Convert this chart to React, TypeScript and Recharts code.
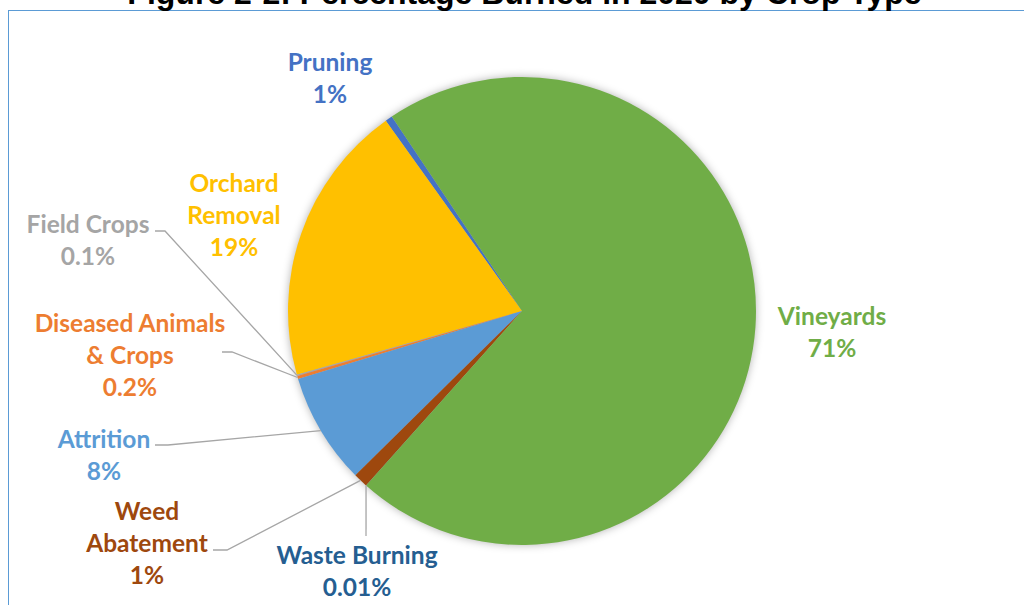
import { Pie, PieChart, Cell } from "recharts";

// shares of acreage burned in 2020
const categories = [
  "Pruning",
  "Orchard Removal",
  "Field Crops",
  "Diseased Animals & Crops",
  "Attrition",
  "Weed Abatement",
  "Waste Burning",
  "Vineyards",
];
const shares = [0.5, 19.5, 0.1, 0.2, 7.7, 1.0, 0.01, 71.0];
const shareLabels = ["1%", "19%", "0.1%", "0.2%", "8%", "1%", "0.01%", "71%"];

const sliceColors: Record<string, string> = {
  Pruning: "#4472C4",
  "Orchard Removal": "#FFC000",
  "Field Crops": "#A5A5A5",
  "Diseased Animals & Crops": "#ED7D31",
  Attrition: "#5B9BD5",
  "Weed Abatement": "#9E480E",
  "Waste Burning": "#264478",
  Vineyards: "#70AD47",
};
const labelColors: Record<string, string> = {
  ...sliceColors,
  "Waste Burning": "#255E91",
};

// where Excel parked each data label (text lines, centre x, first line centre y, leader elbow)
type LabelSpot = { lines: string[]; x: number; y: number; elbow?: [number, number][] };
const labelSpots: Record<string, LabelSpot> = {
  Pruning: { lines: ["Pruning"], x: 330, y: 61 },
  "Orchard Removal": { lines: ["Orchard", "Removal"], x: 234, y: 182 },
  "Field Crops": { lines: ["Field Crops"], x: 88, y: 223, elbow: [[155, 231], [165, 231]] },
  "Diseased Animals & Crops": {
    lines: ["Diseased Animals", "& Crops"],
    x: 130,
    y: 322,
    elbow: [[222, 352], [232, 352]],
  },
  Attrition: { lines: ["Attrition"], x: 104, y: 438, elbow: [[155, 445], [168, 445]] },
  "Weed Abatement": { lines: ["Weed", "Abatement"], x: 147, y: 510, elbow: [[213, 550], [227, 550]] },
  "Waste Burning": { lines: ["Waste Burning"], x: 357, y: 554, elbow: [[366, 536]] },
  Vineyards: { lines: ["Vineyards"], x: 832, y: 315 },
};

const data = categories.map((name, i) => ({ name, value: shares[i], pct: shareLabels[i] }));
const shadowData = [{ name: "shadow", value: 1 }];

const RAD = Math.PI / 180;
const LINE_H = 32;

function SliceLabel(props: any) {
  const { cx, cy, midAngle, outerRadius, payload, index } = props;
  const name: string = payload?.name ?? categories[index];
  const spot = labelSpots[name];
  if (!spot) return null;
  const color = labelColors[name];
  const lines = [...spot.lines, payload?.pct ?? shareLabels[index]];
  let leader = null;
  if (spot.elbow) {
    const ex = cx + outerRadius * Math.cos(-midAngle * RAD);
    const ey = cy + outerRadius * Math.sin(-midAngle * RAD);
    const pts = [...spot.elbow, [ex, ey]].map((p) => p.join(",")).join(" ");
    leader = <polyline points={pts} fill="none" stroke="#A6A6A6" strokeWidth={1.3} />;
  }
  return (
    <g>
      {leader}
      {lines.map((t, i) => (
        <text
          key={i}
          x={spot.x}
          y={spot.y + i * LINE_H}
          textAnchor="middle"
          dominantBaseline="central"
          fill={color}
          fontFamily="Lato, 'Open Sans', sans-serif"
          fontWeight={700}
          fontSize={24.5}
        >
          {t}
        </text>
      ))}
    </g>
  );
}

export default function App() {
  return (
    <div style={{ position: "absolute", left: 0, top: 0, width: 1024, height: 605, overflow: "hidden", background: "#fff" }}>
      <style>{`.pie-shadow path { filter: blur(4px); }`}</style>
      <div
        style={{
          position: "absolute",
          left: 8,
          top: 10,
          width: 1100,
          height: 700,
          border: "1.5px solid #5B9BD5",
          boxSizing: "border-box",
        }}
      />
      <div
        style={{
          position: "absolute",
          left: 0,
          width: 1049,
          top: -21.6,
          textAlign: "center",
          fontFamily: "'Liberation Sans', Arial, sans-serif",
          fontWeight: 700,
          fontSize: 32,
          lineHeight: "30px",
          color: "#000",
          whiteSpace: "nowrap",
        }}
      >
        Figure 2-2: Percentage Burned in 2020 by Crop Type
      </div>
      <div style={{ position: "absolute", left: 0, top: 0 }}>
        <PieChart width={1024} height={605} margin={{ top: 0, right: 0, bottom: 0, left: 0 }}>
          <Pie
            className="pie-shadow"
            data={shadowData}
            dataKey="value"
            cx={522}
            cy={311}
            outerRadius={234}
            fill="rgba(0,0,0,0.3)"
            stroke="none"
            isAnimationActive={false}
          />
          <Pie
            data={data}
            dataKey="value"
            nameKey="name"
            cx={522}
            cy={311}
            outerRadius={234}
            startAngle={123.8}
            endAngle={483.8}
            stroke="none"
            label={SliceLabel}
            labelLine={false}
            isAnimationActive={false}
          >
            {data.map((d) => (
              <Cell key={d.name} fill={sliceColors[d.name]} />
            ))}
          </Pie>
        </PieChart>
      </div>
    </div>
  );
}
